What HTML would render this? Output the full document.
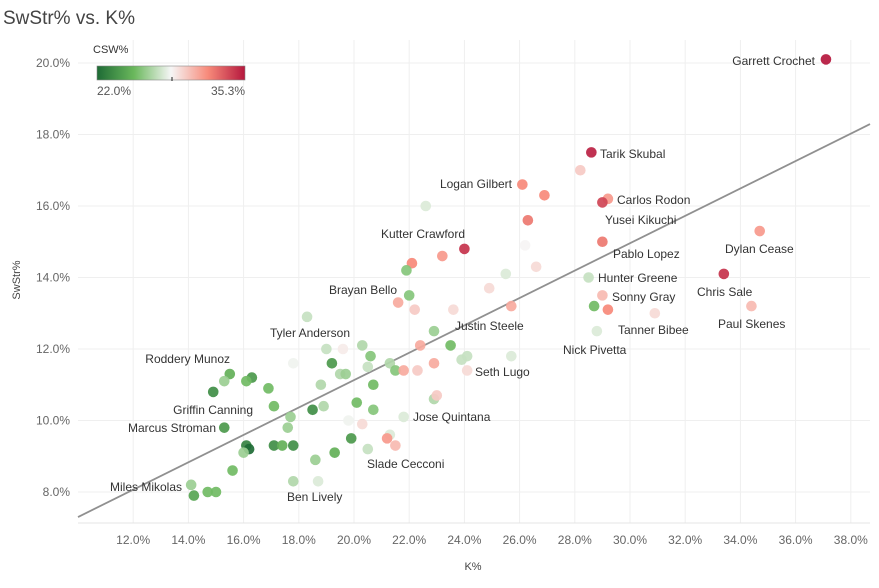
<!DOCTYPE html>
<html><head><meta charset="utf-8"><style>
body{margin:0;background:#fff;font-family:"Liberation Sans",sans-serif;}
svg text{font-family:"Liberation Sans",sans-serif;}
</style></head><body>
<svg id="chart" width="879" height="583" xmlns="http://www.w3.org/2000/svg">
<text x="3" y="24" font-size="19" fill="#444">SwStr% vs. K%</text>
<g id="grid"></g><g id="axes"></g>
<g id="legend">
<defs><linearGradient id="cg" x1="0" x2="1">
<stop offset="0" stop-color="#1e6b35"/><stop offset="0.25" stop-color="#6ab85c"/><stop offset="0.5" stop-color="#f6f6f6"/><stop offset="0.75" stop-color="#f78a7a"/><stop offset="1" stop-color="#b5173d"/></linearGradient></defs>
<text x="93" y="53" font-size="11" fill="#333">CSW%</text>
<rect x="97" y="66" width="148" height="14" fill="url(#cg)" stroke="#888" stroke-width="0.6"/>
<line x1="172" y1="77" x2="172" y2="81" stroke="#222"/>
<text x="97" y="95" font-size="12" fill="#555">22.0%</text>
<text x="245" y="95" font-size="12" fill="#555" text-anchor="end">35.3%</text>
</g>
<g id="trend"></g><g id="dots"></g><g id="labels"></g>
</svg>
<script>
const kPct=[37.1,28.6,28.2,26.1,26.9,29.2,29.0,26.3,26.2,24.0,34.7,29.0,23.2,22.1,26.6,25.5,28.5,21.9,33.4,29.0,28.7,29.2,34.4,30.9,28.8,22.0,21.6,22.2,23.6,24.9,25.7,22.9,22.4,23.5,18.3,19.0,19.6,20.3,20.6,19.2,20.5,21.3,21.5,21.8,22.3,22.9,23.9,24.1,24.1,25.7,17.8,15.5,16.3,15.3,16.1,14.9,16.9,18.8,19.5,19.7,20.7,17.1,18.9,18.5,20.1,20.7,17.7,17.6,15.3,19.8,20.3,21.8,22.9,23.0,16.1,16.2,16.0,17.1,17.4,17.8,19.9,21.3,21.2,21.5,20.5,19.3,18.6,15.6,18.7,17.8,14.1,14.2,14.7,15.0,22.6];
const swStr=[20.1,17.5,17.0,16.6,16.3,16.2,16.1,15.6,14.9,14.8,15.3,15.0,14.6,14.4,14.3,14.1,14.0,14.2,14.1,13.5,13.2,13.1,13.2,13.0,12.5,13.5,13.3,13.1,13.1,13.7,13.2,12.5,12.1,12.1,12.9,12.0,12.0,12.1,11.8,11.6,11.5,11.6,11.4,11.4,11.4,11.6,11.7,11.8,11.4,11.8,11.6,11.3,11.2,11.1,11.1,10.8,10.9,11.0,11.3,11.3,11.0,10.4,10.4,10.3,10.5,10.3,10.1,9.8,9.8,10.0,9.9,10.1,10.6,10.7,9.3,9.2,9.1,9.3,9.3,9.3,9.5,9.6,9.5,9.3,9.2,9.1,8.9,8.6,8.3,8.3,8.2,7.9,8.0,8.0,16.0];
const csw=[35.3,35.0,30,32,32,31.5,34,32.5,28.7,34.5,31.5,32.5,31.5,32,29.5,28,27.5,26,34.5,30.5,25.5,32,30.5,29.5,28,26,31,30,29.5,29.5,31,26.5,31,25.5,27.5,27.5,29,27,26,24,27.5,27,26,31,30,31,27.5,27.5,29.5,28,28.5,25,24,26.5,25.5,23.5,25.5,27,27,26.5,25.5,25.5,27,23.5,25.5,26,26.5,26.5,24,28.5,29.5,28,27,30,23,22,26.5,23.5,25,23.5,24,28,31.5,30.5,27.5,25,26.5,25.5,28,27,26.5,24.5,25.5,25.5,28];
const xTicks=[12,14,16,18,20,22,24,26,28,30,32,34,36,38];
const yTicks=[8,10,12,14,16,18,20];
const trendIntercept=3.47, trendSlope=0.383;
const names=[["Garrett Crochet",815,65,"end"],["Tarik Skubal",600,158,"start"],["Logan Gilbert",512,188,"end"],["Carlos Rodon",617,204,"start"],["Yusei Kikuchi",605,224,"start"],["Kutter Crawford",465,238,"end"],["Dylan Cease",725,253,"start"],["Pablo Lopez",613,258,"start"],["Hunter Greene",598,282,"start"],["Chris Sale",697,296,"start"],["Sonny Gray",612,301,"start"],["Brayan Bello",397,294,"end"],["Paul Skenes",718,328,"start"],["Tanner Bibee",618,334,"start"],["Justin Steele",455,330,"start"],["Tyler Anderson",350,337,"end"],["Nick Pivetta",563,354,"start"],["Roddery Munoz",230,363,"end"],["Seth Lugo",475,376,"start"],["Griffin Canning",253,414,"end"],["Jose Quintana",413,421,"start"],["Marcus Stroman",216,432,"end"],["Slade Cecconi",367,468,"start"],["Miles Mikolas",182,491,"end"],["Ben Lively",287,501,"start"]];
const NS="http://www.w3.org/2000/svg";
const L=78,R=870,T=40,B=523;
const xs=v=>L+(v-10)*27.6, ys=v=>63+(20-v)*35.75;
function mk(t,a,p){const e=document.createElementNS(NS,t);for(const k in a)e.setAttribute(k,a[k]);p.appendChild(e);return e;}
const stops=[[0,[30,107,53]],[0.25,[106,184,92]],[0.5,[246,246,246]],[0.75,[247,138,122]],[1,[181,23,61]]];
function col(v){let t=(v-22)/(35.3-22);t=Math.max(0,Math.min(1,t));for(let i=0;i<4;i++){const a=stops[i],b=stops[i+1];if(t<=b[0]){const f=(t-a[0])/(b[0]-a[0]);return "rgb("+a[1].map((c,j)=>Math.round(c+(b[1][j]-c)*f)).join(",")+")";}}return "rgb(181,23,61)";}
const g=document.getElementById('grid'),ax=document.getElementById('axes');
xTicks.forEach(t=>{const x=xs(t);const l=mk('line',{x1:x,x2:x,y1:T,y2:B,stroke:'#efefef'},g);


const tx=mk('text',{x:x,y:544,'font-size':12,fill:'#666','text-anchor':'middle'},ax);tx.textContent=t.toFixed(1)+'%';

});
yTicks.forEach(t=>{const y=ys(t);const l=mk('line',{x1:L,x2:R,y1:y,y2:y,stroke:'#efefef'},g);


const tx=mk('text',{x:70,y:y+4,'font-size':12,fill:'#666','text-anchor':'end'},ax);tx.textContent=t.toFixed(1)+'%';

});
mk('line',{x1:L,x2:R,y1:B,y2:B,stroke:'#e4e4e4'},g);
const xt=mk('text',{x:473,y:570,'font-size':11,fill:'#444','text-anchor':'middle'},ax);xt.textContent='K%';


const yt=mk('text',{x:0,y:0,'font-size':11,fill:'#444','text-anchor':'middle',transform:'translate(20,280) rotate(-90)'},ax);yt.textContent='SwStr%';


const tl=mk('line',{x1:xs(10),y1:ys(trendIntercept+trendSlope*10),x2:R,y2:ys(trendIntercept+trendSlope*((R-L)/27.6+10)),stroke:'#909090','stroke-width':1.8},document.getElementById('trend'));


const d=document.getElementById('dots');
kPct.forEach((k,i)=>{const c=mk('circle',{cx:xs(k),cy:ys(swStr[i]),r:5.3,fill:col(csw[i]),'fill-opacity':0.92},d);

});
const lb=document.getElementById('labels');
names.forEach(n=>{const t=mk('text',{x:n[1],y:n[2],'font-size':12,fill:'#333','text-anchor':n[3]},lb);t.textContent=n[0];

});
</script>
</body></html>
